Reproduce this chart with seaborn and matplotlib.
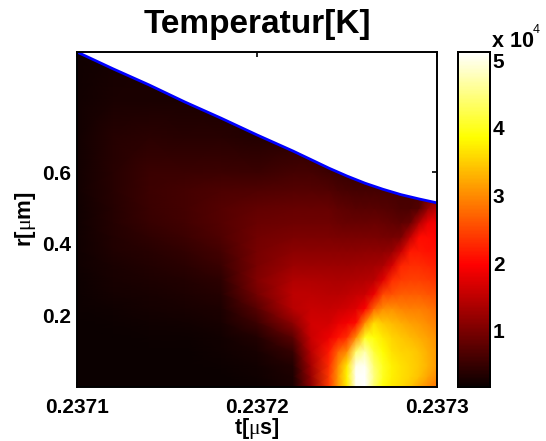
"""
Temperature map of a collapsing bubble, r against t, with the bubble wall on top.
"""

# import libraries
import matplotlib
matplotlib.use('Agg')
import matplotlib.pyplot as plt
from matplotlib.patches import Polygon
import numpy as np
import seaborn as sns

t_us = [0.23710, 0.23712, 0.23714, 0.23716, 0.23718, 0.23720, 0.23722, 0.23723, 0.23724, 0.237245, 0.23725,
        0.237255, 0.23726, 0.237265, 0.23727, 0.237275, 0.23728, 0.237285, 0.23729, 0.237295, 0.23730]
r_um = [0.0, 0.03, 0.06, 0.10, 0.14, 0.18, 0.22, 0.26, 0.30, 0.34,
        0.38, 0.42, 0.46, 0.50, 0.55, 0.60, 0.70, 0.80, 0.94]

# temperature in 1e4 K, one list per t, r going up
T_0 = [.17, .17, .17, .17, .18, .18, .20, .20, .20, .22, .22, .22, .22, .22, .24, .24, .24, .24, .22]
T_1 = [.17, .17, .17, .17, .18, .20, .22, .25, .28, .30, .33, .36, .38, .38, .40, .40, .38, .30, .25]
T_2 = [.17, .17, .17, .18, .19, .21, .25, .28, .31, .35, .40, .45, .50, .52, .55, .52, .42, .30, .30]
T_3 = [.17, .17, .18, .18, .20, .23, .27, .31, .36, .41, .47, .54, .58, .60, .60, .52, .40, .30, .30]
T_4 = [.17, .18, .19, .21, .23, .27, .32, .38, .44, .52, .60, .68, .72, .72, .66, .55, .40, .30, .30]
T_5 = [.20, .22, .24, .28, .36, .55, .75, .95, 1.05, 1.0, .97, .93, .87, .82, .68, .52, .35, .30, .30]
T_6 = [.30, .32, .36, .50, .78, 1.15, 1.45, 1.5, 1.4, 1.25, 1.12, 1.02, .92, .85, .72, .60, .40, .30, .30]
T_7 = [1.1, 1.2, 1.3, 1.45, 1.6, 1.65, 1.58, 1.5, 1.4, 1.25, 1.12, 1.02, .92, .85, .72, .60, .40, .30, .30]
T_8 = [2.4, 2.4, 2.3, 2.15, 1.85, 1.65, 1.55, 1.45, 1.38, 1.25, 1.12, 1.02, .92, .85, .70, .55, .40, .30, .30]
T_9 = [3.1, 3.1, 3.0, 2.7, 2.1, 1.8, 1.6, 1.45, 1.35, 1.25, 1.12, 1.0, .88, .80, .65, .50, .40, .30, .30]
T_10 = [3.7, 3.8, 3.7, 3.0, 2.3, 1.9, 1.65, 1.5, 1.38, 1.25, 1.12, 1.0, .86, .78, .62, .50, .40, .30, .30]
T_11 = [5.0, 5.1, 5.0, 4.4, 3.0, 2.05, 1.72, 1.55, 1.4, 1.27, 1.12, 1.0, .86, .75, .60, .50, .40, .30, .30]
T_12 = [5.12, 5.12, 5.05, 4.7, 4.0, 3.0, 1.95, 1.6, 1.42, 1.28, 1.15, 1.0, .86, .75, .60, .50, .40, .30, .30]
T_13 = [4.4, 4.5, 4.4, 4.15, 3.9, 3.6, 2.7, 1.85, 1.45, 1.3, 1.15, 1.0, .88, .75, .60, .50, .40, .30, .30]
T_14 = [3.9, 4.0, 4.0, 3.85, 3.7, 3.45, 3.0, 2.5, 1.75, 1.35, 1.15, .98, .85, .72, .60, .50, .40, .30, .30]
T_15 = [3.7, 3.75, 3.75, 3.65, 3.55, 3.35, 3.05, 2.55, 2.3, 1.65, 1.2, .95, .82, .70, .60, .50, .40, .30, .30]
T_16 = [3.6, 3.65, 3.65, 3.55, 3.45, 3.25, 2.95, 2.65, 2.4, 2.25, 1.55, 1.0, .78, .65, .60, .50, .40, .30, .30]
T_17 = [3.45, 3.55, 3.55, 3.5, 3.35, 3.15, 2.9, 2.65, 2.45, 2.3, 2.15, 1.5, .85, .65, .60, .50, .40, .30, .30]
T_18 = [3.2, 3.4, 3.45, 3.4, 3.25, 3.1, 2.9, 2.65, 2.45, 2.3, 2.15, 2.05, 1.4, .72, .60, .50, .40, .30, .30]
T_19 = [3.0, 3.2, 3.3, 3.25, 3.15, 3.0, 2.85, 2.6, 2.4, 2.25, 2.1, 2.05, 1.85, 1.2, .70, .50, .40, .30, .30]
T_20 = [2.8, 3.0, 3.1, 3.1, 3.05, 2.9, 2.75, 2.55, 2.35, 2.2, 2.1, 2.0, 1.9, 1.5, .80, .50, .40, .30, .30]

# bubble wall
wall_t = [0.23710, 0.23712, 0.23714, 0.23716, 0.23718, 0.23720, 0.23722, 0.23723,
          0.23724, 0.23725, 0.23726, 0.23727, 0.23728, 0.23729, 0.23730]
wall_r = [.937, .890, .845, .797, .752, .705, .660, .636, .612, .590, .570, .553, .538, .526, .515]

cbar_ticks = [10000, 20000, 30000, 40000, 50000]
cbar_labels = ['1', '2', '3', '4', '5']

sns.set_theme(style='white')
plt.rcParams['font.family'] = ['Liberation Sans', 'DejaVu Sans']
plt.rcParams['font.weight'] = 'bold'
plt.rcParams['mathtext.fontset'] = 'custom'
plt.rcParams['mathtext.rm'] = 'Liberation Serif:regular'

f = plt.figure(figsize=(5.46, 4.41), dpi=100)
W, H = 546.0, 441.0
ax = f.add_axes([77 / W, 1 - 387 / H, 360 / W, 335 / H])
cax = f.add_axes([458 / W, 1 - 387 / H, 32 / W, 335 / H])

temp = np.array([T_0, T_1, T_2, T_3, T_4, T_5, T_6, T_7, T_8, T_9, T_10,
                 T_11, T_12, T_13, T_14, T_15, T_16, T_17, T_18, T_19, T_20]).T * 1e4

hot = sns.color_palette('hot', as_cmap=True)
mesh = ax.pcolormesh(t_us, r_um, temp, cmap=hot, vmin=1700, vmax=51200, shading='gouraud', rasterized=True)

# nothing exists outside the wall
outline = list(zip(wall_t, wall_r)) + [(wall_t[-1], 0), (wall_t[0], 0)]
mesh.set_clip_path(Polygon(outline, closed=True, transform=ax.transData))

sns.lineplot(x=wall_t, y=wall_r, ax=ax, color='#0000ff', linewidth=2.0, sort=False, estimator=None, errorbar=None)

ax.set_xlim(0.2371, 0.2373)
ax.set_ylim(0, 0.937)
ax.set_xticks([0.2371, 0.2372, 0.2373])
ax.set_xticklabels(['0.2371', '0.2372', '0.2373'])
ax.set_yticks([0.2, 0.4, 0.6])
ax.set_yticklabels(['0.2', '0.4', '0.6'])
ax.tick_params(direction='in', top=True, right=True, bottom=True, left=True, length=3.5, width=1.2,
               color='black', labelcolor='black', labelsize=15)
ax.tick_params(axis='x', pad=8)
ax.tick_params(axis='y', pad=4)
ax.set_title('Temperatur[K]', fontsize=24, fontweight='bold', color='black', pad=14)
ax.set_xlabel(r't[$\mathrm{\mu}$s]', fontsize=15.5, fontweight='bold', color='black', labelpad=-1)
ax.set_ylabel(r'r[$\mathrm{\mu}$m]', fontsize=16, fontweight='bold', color='black', labelpad=3)

cb = f.colorbar(mesh, cax=cax)
cb.set_ticks(cbar_ticks)
cb.set_ticklabels(cbar_labels)
cax.tick_params(direction='in', left=True, right=True, length=3.5, width=1.2, color='black',
                labelsize=15, labelcolor='black', pad=2)
f.text(492 / W, 1 - 47 / H, 'x 10', fontsize=15.5, fontweight='bold', color='black', va='baseline')
f.text(533 / W, 1 - 33 / H, '4', fontsize=9, fontweight='normal', color='black', va='baseline')

for a in (ax, cax):
    for s in a.spines.values():
        s.set_visible(True)
        s.set_linewidth(1.4)
        s.set_color('black')
cb.outline.set_linewidth(1.4)
cb.outline.set_edgecolor('black')

f.savefig('out.png', dpi=100)
